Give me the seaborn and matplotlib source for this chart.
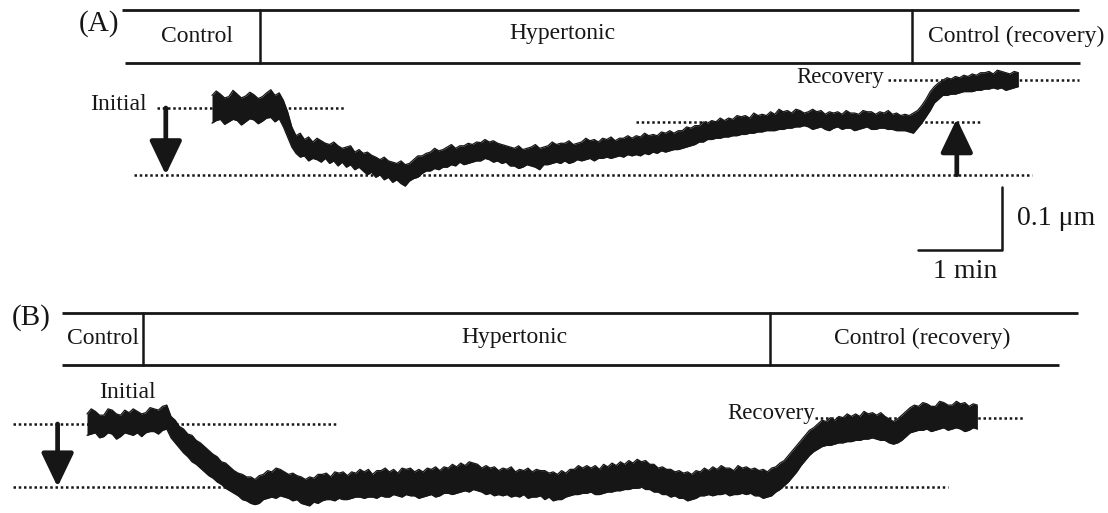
import matplotlib
matplotlib.use("Agg")
import matplotlib.pyplot as plt
import pandas as pd
import seaborn as sns

# ---- data ---------------------------------------------------------------
# time in s, displacement in nm (relative to the initial level)
conditions = ["Control", "Hypertonic", "Control (recovery)"]

a_time = [0, 3, 6, 9, 12, 15, 18, 21, 24, 27, 30, 33, 36, 39, 42, 45, 48, 51, 54, 57,
          60, 63, 66, 69, 72, 75, 78, 81, 84, 87, 90, 93, 96, 99, 102, 105, 108, 111, 114, 117,
          120, 123, 126, 129, 132, 135, 138, 141, 144, 147, 150, 153, 156, 159, 162, 165, 168, 171, 174, 177,
          180, 183, 186, 189, 192, 195, 198, 201, 204, 207, 210, 213, 216, 219, 222, 225, 228, 231, 234, 237,
          240, 243, 246, 249, 252, 255, 258, 261, 264, 267, 270, 273, 276, 279, 282, 285, 288, 291, 294, 297,
          300, 303, 306, 309, 312, 315, 318, 321, 324, 327, 330, 333, 336, 339, 342, 345, 348, 351, 354, 357,
          360, 363, 366, 369, 372, 375, 378, 381, 384, 387, 390, 393, 396, 399, 402, 405, 408, 411, 414, 417,
          420, 423, 426, 429, 432, 435, 438, 441, 444, 447, 450, 453, 456, 459, 462, 465, 468, 471, 474, 477,
          480, 483, 486, 489, 492, 495, 498, 501, 504, 507, 510, 513, 516, 519, 522, 525, 528, 531, 534, 537,
          540, 543, 546, 549, 552, 555, 558, 561, 564, 567, 570, 573, 576]
a_hi = [20, 27, 22, 16, 18, 28, 22, 16, 19, 25, 21, 15, 18, 24, 29, 20, 24, 12, -6, -30,
        -44, -40, -50, -46, -54, -48, -52, -56, -58, -54, -60, -64, -62, -60, -70, -66, -72, -70, -75, -78,
        -82, -78, -84, -86, -88, -84, -90, -88, -82, -76, -76, -72, -70, -64, -68, -66, -62, -58, -64, -60,
        -60, -56, -58, -54, -55, -50, -54, -52, -56, -58, -60, -62, -64, -60, -66, -64, -62, -58, -64, -62,
        -60, -54, -58, -56, -56, -52, -58, -56, -54, -48, -52, -50, -54, -48, -50, -46, -52, -48, -48, -44,
        -48, -44, -46, -40, -44, -42, -44, -38, -40, -36, -40, -36, -36, -30, -32, -28, -28, -22, -24, -20,
        -22, -16, -20, -16, -18, -12, -14, -12, -16, -8, -12, -10, -12, -6, -10, -2, -6, -4, -8, -2,
        -4, -8, -6, -2, -6, -4, -10, -6, -8, -6, -10, -4, -8, -8, -10, -4, -6, -6, -10, -6,
        -8, -4, -10, -8, -12, -10, -12, -8, -4, 4, 14, 26, 34, 40, 44, 48, 46, 50, 48, 52,
        50, 54, 52, 56, 56, 58, 54, 60, 58, 56, 54, 58, 56]
a_lo = [-24, -20, -18, -26, -22, -18, -20, -27, -22, -17, -19, -25, -21, -16, -15, -22, -17, -30, -46, -62,
        -72, -78, -76, -84, -80, -82, -86, -80, -88, -84, -92, -86, -94, -90, -98, -94, -100, -106, -102, -110,
        -106, -114, -110, -118, -114, -120, -124, -116, -112, -110, -104, -100, -100, -96, -98, -94, -94, -90, -92, -86,
        -90, -88, -86, -84, -84, -80, -82, -86, -84, -88, -86, -92, -92, -96, -94, -90, -92, -94, -98, -90,
        -90, -88, -86, -88, -84, -88, -86, -82, -84, -82, -80, -84, -80, -80, -78, -80, -78, -76, -78, -74,
        -76, -74, -76, -72, -74, -70, -72, -68, -70, -68, -66, -66, -64, -62, -60, -58, -54, -54, -50, -50,
        -48, -48, -46, -46, -44, -44, -42, -42, -40, -40, -38, -38, -36, -36, -36, -34, -34, -32, -32, -30,
        -30, -28, -30, -34, -32, -30, -34, -36, -32, -30, -34, -32, -32, -36, -34, -32, -30, -34, -34, -32,
        -32, -34, -34, -36, -36, -36, -38, -40, -32, -24, -14, -4, 8, 14, 20, 20, 22, 22, 24, 26,
        26, 26, 28, 28, 30, 30, 32, 30, 32, 28, 30, 32, 34]

b_time = [0, 3, 6, 9, 12, 15, 18, 21, 24, 27, 30, 33, 36, 39, 42, 45, 48, 51, 54, 57,
          60, 63, 66, 69, 72, 75, 78, 81, 84, 87, 90, 93, 96, 99, 102, 105, 108, 111, 114, 117,
          120, 123, 126, 129, 132, 135, 138, 141, 144, 147, 150, 153, 156, 159, 162, 165, 168, 171, 174, 177,
          180, 183, 186, 189, 192, 195, 198, 201, 204, 207, 210, 213, 216, 219, 222, 225, 228, 231, 234, 237,
          240, 243, 246, 249, 252, 255, 258, 261, 264, 267, 270, 273, 276, 279, 282, 285, 288, 291, 294, 297,
          300, 303, 306, 309, 312, 315, 318, 321, 324, 327, 330, 333, 336, 339, 342, 345, 348, 351, 354, 357,
          360, 363, 366, 369, 372, 375, 378, 381, 384, 387, 390, 393, 396, 399, 402, 405, 408, 411, 414, 417,
          420, 423, 426, 429, 432, 435, 438, 441, 444, 447, 450, 453, 456, 459, 462, 465, 468, 471, 474, 477,
          480, 483, 486, 489, 492, 495, 498, 501, 504, 507, 510, 513, 516, 519, 522, 525, 528, 531, 534, 537,
          540, 543, 546, 549, 552, 555, 558, 561, 564, 567, 570, 573, 576, 579, 582, 585, 588, 591, 594, 597,
          600, 603, 606, 609, 612, 615, 618, 621, 624, 627, 630, 633, 636]
b_hi = [16, 24, 20, 14, 14, 24, 22, 16, 14, 22, 18, 24, 20, 16, 18, 26, 24, 22, 28, 30,
        12, 6, -4, -8, -16, -18, -26, -30, -36, -42, -48, -52, -60, -62, -68, -74, -78, -80, -84, -84,
        -88, -82, -80, -74, -76, -70, -72, -76, -80, -78, -82, -84, -88, -84, -86, -80, -80, -78, -84, -76,
        -78, -76, -82, -76, -78, -72, -76, -72, -80, -74, -74, -70, -76, -72, -78, -70, -72, -70, -76, -72,
        -76, -70, -72, -68, -74, -68, -70, -64, -68, -62, -66, -60, -62, -64, -70, -66, -70, -68, -74, -70,
        -72, -68, -76, -72, -74, -70, -76, -72, -74, -74, -78, -76, -80, -74, -78, -72, -72, -66, -70, -66,
        -70, -66, -72, -64, -68, -62, -66, -60, -64, -58, -62, -56, -60, -58, -64, -64, -70, -68, -72, -72,
        -76, -74, -78, -76, -80, -74, -76, -70, -74, -68, -72, -66, -70, -70, -74, -66, -70, -68, -72, -70,
        -74, -72, -76, -70, -68, -62, -58, -50, -42, -34, -26, -18, -10, -6, 0, 6, 4, 10, 6, 12,
        10, 16, 12, 16, 12, 20, 16, 18, 14, 18, 12, 8, 4, 8, 14, 20, 26, 30, 28, 34,
        32, 28, 28, 36, 34, 30, 30, 36, 32, 34, 28, 32, 30]
b_lo = [-18, -16, -14, -22, -20, -14, -16, -24, -20, -14, -16, -18, -14, -20, -14, -12, -12, -16, -10, -8,
        -22, -30, -38, -46, -52, -60, -64, -70, -76, -82, -86, -92, -96, -102, -106, -110, -114, -120, -122, -126,
        -128, -126, -120, -118, -116, -118, -114, -116, -118, -122, -120, -126, -128, -130, -124, -126, -122, -120, -120, -122,
        -118, -120, -120, -118, -116, -116, -118, -116, -116, -118, -114, -116, -116, -112, -114, -116, -112, -114, -114, -118,
        -116, -114, -112, -116, -114, -110, -110, -112, -110, -108, -106, -108, -104, -106, -108, -112, -110, -114, -112, -114,
        -112, -116, -114, -116, -112, -118, -116, -116, -114, -120, -116, -122, -120, -120, -116, -114, -112, -112, -110, -110,
        -108, -112, -112, -110, -108, -108, -106, -106, -104, -104, -102, -102, -100, -104, -104, -108, -108, -112, -112, -116,
        -114, -118, -118, -122, -120, -118, -114, -114, -112, -114, -112, -112, -110, -114, -112, -112, -110, -112, -110, -114,
        -114, -118, -116, -114, -108, -104, -98, -92, -84, -76, -66, -58, -50, -44, -40, -36, -34, -34, -32, -30,
        -30, -28, -28, -26, -26, -24, -24, -22, -24, -26, -26, -30, -32, -30, -26, -20, -14, -12, -10, -10,
        -8, -12, -10, -8, -6, -10, -8, -6, -8, -12, -10, -6, -8]

# switch times between solutions (s) and span of the condition bar
a_switch = [34, 500]
a_bar_top = [-64, 619]
a_bar_bottom = [-62, 620]
b_switch = [40, 488]
b_bar_top = [-18, 708]
b_bar_bottom = [-18, 694]

# dotted reference levels (nm) and their extent (s)
a_initial, a_initial_span = 0, [-39, 94]
a_lower, a_lower_span = -106, [-56, 586]
a_middle, a_middle_span = -22, [303, 549]
a_recovery, a_recovery_span = 44, [483, 619]
b_initial, b_initial_span = 0, [-53, 178]
b_lower, b_lower_span = -100, [-53, 615]
b_recovery, b_recovery_span = 10, [520, 670]

scale_time_s = 60
scale_nm = 100

# ---- layout --------------------------------------------------------------
W, H = 1108, 513
PX_PER_S, PX_PER_NM = 1.4, 0.63
INK = "#161616"

sns.set_theme(style="white")
plt.rcParams["font.family"] = ["Liberation Serif", "DejaVu Serif"]

fig = plt.figure(figsize=(W / 100, H / 100), dpi=100)
fig.patch.set_facecolor("white")


def trace_axes(x0, y0):
    ax = fig.add_axes([0, 0, 1, 1])
    ax.set_xlim(-x0 / PX_PER_S, (W - x0) / PX_PER_S)
    ax.set_ylim((y0 - H) / PX_PER_NM, y0 / PX_PER_NM)
    ax.axis("off")
    return ax


def yfrac(ypx):
    return 1 - ypx / H


def condition_bar(ax, top, bottom, switches, y_top, y_bot):
    tr = ax.get_xaxis_transform()
    ax.plot(top, [yfrac(y_top)] * 2, color=INK, lw=2.0, transform=tr, solid_capstyle="butt")
    ax.plot(bottom, [yfrac(y_bot)] * 2, color=INK, lw=2.0, transform=tr, solid_capstyle="butt")
    for s in switches:
        ax.plot([s, s], [yfrac(y_top), yfrac(y_bot)], color=INK, lw=1.8, transform=tr)


def level(ax, value, span):
    ax.plot(span, [value, value], color=INK, lw=1.8, ls=(0, (1, 1.1)), zorder=1)


def arrow(ax, t, start, end):
    ax.annotate("", xy=(t, end), xytext=(t, start),
                arrowprops=dict(arrowstyle="-|>,head_length=1.15,head_width=0.55",
                                mutation_scale=18, lw=3.4, color=INK,
                                shrinkA=0, shrinkB=0), zorder=2)


def trace(ax, t, hi, lo):
    ax.fill_between(t, lo, hi, color=INK, lw=0, zorder=3)
    df = pd.DataFrame({"t": t + t, "v": hi + lo,
                       "edge": ["hi"] * len(t) + ["lo"] * len(t)})
    sns.lineplot(data=df, x="t", y="v", units="edge", estimator=None,
                 color=INK, lw=0.9, ax=ax, zorder=3)


def label(x, y, s, size=17):
    fig.text(x / W, yfrac(y), s, ha="center", va="center", fontsize=size, color=INK)


# ---- panel A ----
ax_a = trace_axes(212, 108)
condition_bar(ax_a, a_bar_top, a_bar_bottom, a_switch, 10, 63)
level(ax_a, a_initial, a_initial_span)
level(ax_a, a_lower, a_lower_span)
level(ax_a, a_middle, a_middle_span)
level(ax_a, a_recovery, a_recovery_span)
arrow(ax_a, -33, a_initial, a_lower)
arrow(ax_a, 532, a_lower, a_middle + 5)
trace(ax_a, a_time, a_hi, a_lo)

# scale bar, corner at the bottom right
corner_t, corner_v = 564, -225
ax_a.plot([corner_t - scale_time_s, corner_t, corner_t],
          [corner_v, corner_v, corner_v + scale_nm], color=INK, lw=1.8)
ax_a.set_xlim(-212 / PX_PER_S, (W - 212) / PX_PER_S)
ax_a.set_ylim((108 - H) / PX_PER_NM, 108 / PX_PER_NM)

# ---- panel B ----
ax_b = trace_axes(87, 424)
condition_bar(ax_b, b_bar_top, b_bar_bottom, b_switch, 313, 365)
level(ax_b, b_initial, b_initial_span)
level(ax_b, b_lower, b_lower_span)
level(ax_b, b_recovery, b_recovery_span)
arrow(ax_b, -21, b_initial, b_lower)
trace(ax_b, b_time, b_hi, b_lo)
ax_b.set_xlim(-87 / PX_PER_S, (W - 87) / PX_PER_S)
ax_b.set_ylim((424 - H) / PX_PER_NM, 424 / PX_PER_NM)

# ---- text ----
label(99, 24, "(A)", 21)
label(197, 36, conditions[0])
label(562, 34, conditions[1])
label(1016, 36, conditions[2])
label(118, 104, "Initial")
label(840, 78, "Recovery", 16.5)
label(1056, 219, "0.1 μm", 20)
label(965, 272, "1 min", 20)

label(31, 318, "(B)", 21)
label(103, 338, conditions[0])
label(514, 338, conditions[1])
label(922, 338, conditions[2])
label(127, 393, "Initial")
label(771, 413, "Recovery", 16.5)

fig.savefig("out.png", dpi=100, facecolor="white")
